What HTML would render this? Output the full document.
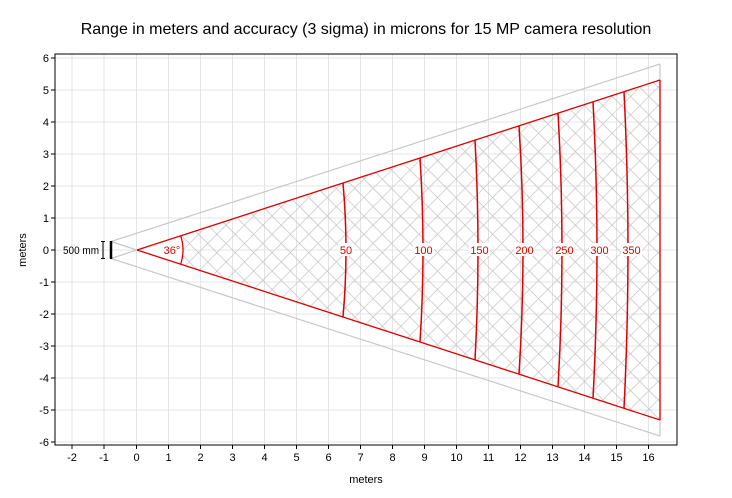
<!DOCTYPE html>
<html><head><style>body{margin:0;background:#fff}svg{display:block}text{font-family:"Liberation Sans",Arial,sans-serif}</style></head>
<body>
<svg width="732" height="498" viewBox="0 0 732 498">
<defs>
<pattern id="h" width="13" height="13" patternUnits="userSpaceOnUse" patternTransform="rotate(45 137 250)">
<path d="M0 0H13M0 0V13" stroke="#c4c4c4" stroke-width="1.4" fill="none"/>
</pattern>
<clipPath id="pc"><rect x="55" y="54" width="622" height="391"/></clipPath>
</defs>
<text x="366" y="34" font-size="16" text-anchor="middle" fill="#000">Range in meters and accuracy (3 sigma) in microns for 15 MP camera resolution</text>
<g stroke="#e4e4e4" stroke-width="1">
<path d="M72 54V445M104 54V445M136.5 54V445M168.5 54V445M200.5 54V445M232.5 54V445M264.5 54V445M296.5 54V445M328.5 54V445M360.5 54V445M392.5 54V445M424.5 54V445M456.5 54V445M488.5 54V445M520.5 54V445M552.5 54V445M584.5 54V445M616.5 54V445M648.5 54V445"/>
<path d="M55 58H677M55 90H677M55 122H677M55 154H677M55 186H677M55 218H677M55 250H677M55 282H677M55 314H677M55 346H677M55 378H677M55 410H677M55 442H677"/>
</g>
<g clip-path="url(#pc)">
<polygon points="137,250 660,80 660,420" fill="url(#h)"/>
<path d="M137 250 L180.7 235.8 A46 46 0 0 1 180.7 264.2 Z" fill="#fff"/>
<g stroke="#c8c8c8" stroke-width="1.2" fill="none">
<path d="M111 241.5 L660 64M111 258.5 L660 436M111 241.5 L137 250 L111 258.5M660 64V436"/>
</g>
<g stroke="#d00" stroke-width="1.3" fill="none">
<path d="M137 250 L660 80 M137 250 L660 420 M660 80 V420"/>
<path d="M180.7 235.8 A46 46 0 0 1 180.7 264.2"/>
</g>
<g stroke="#d00" stroke-width="1.5" fill="none">
<path d="M343 183.1 Q349 250 343 316.9"/>
<path d="M420 158 Q426 250 420 342"/>
<path d="M475 140.1 Q481 250 475 359.9"/>
<path d="M519 125.8 Q527 250 519 374.2"/>
<path d="M558 113.2 Q566 250 558 386.8"/>
<path d="M593 101.8 Q601 250 593 398.2"/>
<path d="M624 91.7 Q632 250 624 408.3"/>
</g>
</g>
<g font-size="11" fill="#d00" text-anchor="middle">
<rect x="164" y="243" width="17" height="13" fill="#fff"/><text x="172" y="254">36°</text>
<rect x="338" y="243" width="16" height="13" fill="#fff"/><text x="346" y="254">50</text>
<rect x="413" y="243" width="21" height="13" fill="#fff"/><text x="423.5" y="254">100</text>
<rect x="469" y="243" width="21" height="13" fill="#fff"/><text x="479.5" y="254">150</text>
<rect x="514" y="243" width="21" height="13" fill="#fff"/><text x="524.5" y="254">200</text>
<rect x="554" y="243" width="21" height="13" fill="#fff"/><text x="564.5" y="254">250</text>
<rect x="589" y="243" width="21" height="13" fill="#fff"/><text x="599.5" y="254">300</text>
<rect x="621" y="243" width="21" height="13" fill="#fff"/><text x="631.5" y="254">350</text>
</g>
<text x="63" y="254" font-size="11" textLength="36" lengthAdjust="spacingAndGlyphs">500 mm</text>
<path d="M101 241.5H105M103 241.5V258.5M101 258.5H105" stroke="#000" fill="none"/>
<path d="M111 241V259" stroke="#000" stroke-width="2.5"/>
<rect x="55" y="54" width="622" height="391" fill="none" stroke="#000" stroke-width="1"/>
<g stroke="#000"><path d="M72 445v4M104 445v4M136.5 445v4M168.5 445v4M200.5 445v4M232.5 445v4M264.5 445v4M296.5 445v4M328.5 445v4M360.5 445v4M392.5 445v4M424.5 445v4M456.5 445v4M488.5 445v4M520.5 445v4M552.5 445v4M584.5 445v4M616.5 445v4M648.5 445v4"/>
<path d="M51 58h4M51 90h4M51 122h4M51 154h4M51 186h4M51 218h4M51 250h4M51 282h4M51 314h4M51 346h4M51 378h4M51 410h4M51 442h4"/></g>
<g font-size="11" text-anchor="middle" fill="#000">
<text x="72" y="461">-2</text><text x="104" y="461">-1</text><text x="136.5" y="461">0</text><text x="168.5" y="461">1</text><text x="200.5" y="461">2</text><text x="232.5" y="461">3</text><text x="264.5" y="461">4</text><text x="296.5" y="461">5</text><text x="328.5" y="461">6</text><text x="360.5" y="461">7</text><text x="392.5" y="461">8</text><text x="424.5" y="461">9</text><text x="456.5" y="461">10</text><text x="488.5" y="461">11</text><text x="520.5" y="461">12</text><text x="552.5" y="461">13</text><text x="584.5" y="461">14</text><text x="616.5" y="461">15</text><text x="648.5" y="461">16</text>
</g>
<g font-size="11" text-anchor="end" fill="#000">
<text x="49" y="62">6</text><text x="49" y="94">5</text><text x="49" y="126">4</text><text x="49" y="158">3</text><text x="49" y="190">2</text><text x="49" y="222">1</text><text x="49" y="254">0</text><text x="49" y="286">-1</text><text x="49" y="318">-2</text><text x="49" y="350">-3</text><text x="49" y="382">-4</text><text x="49" y="414">-5</text><text x="49" y="446">-6</text>
</g>
<text x="366" y="483" font-size="11" text-anchor="middle">meters</text>
<text transform="translate(26 250) rotate(-90)" font-size="11" text-anchor="middle">meters</text>
</svg>
</body></html>
